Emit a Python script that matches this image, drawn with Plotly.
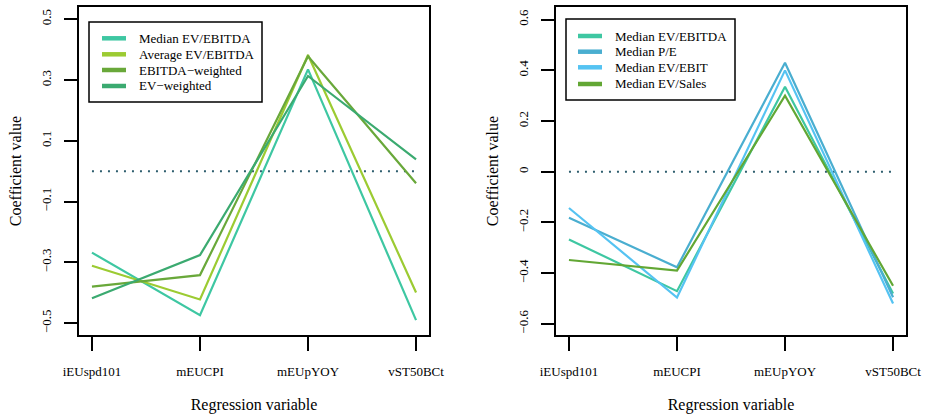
import plotly.graph_objects as go

variables = ["iEUspd101", "mEUCPI", "mEUpYOY", "vST50BCt"]
positions = [1, 2, 3, 4]

left_names = ["Median EV/EBITDA", "Average EV/EBITDA", "EBITDA\u2212weighted", "EV\u2212weighted"]
left_median_ev_ebitda = [-0.268, -0.474, 0.335, -0.490]
left_average_ev_ebitda = [-0.311, -0.422, 0.382, -0.399]
left_ebitda_weighted = [-0.380, -0.342, 0.378, -0.040]
left_ev_weighted = [-0.418, -0.276, 0.313, 0.039]
left_colors = ["#3EC7A2", "#9CCB32", "#69A83A", "#3BAA70"]

right_names = ["Median EV/EBITDA", "Median P/E", "Median EV/EBIT", "Median EV/Sales"]
right_median_ev_ebitda = [-0.267, -0.471, 0.335, -0.480]
right_median_pe = [-0.181, -0.377, 0.430, -0.495]
right_median_ev_ebit = [-0.143, -0.496, 0.400, -0.520]
right_median_ev_sales = [-0.348, -0.390, 0.300, -0.450]
right_colors = ["#3EC7A2", "#4AAED0", "#55C3F2", "#62A734"]

left_ticks = [-0.5, -0.3, -0.1, 0.1, 0.3, 0.5]
left_ticktext = ["\u22120.5", "\u22120.3", "\u22120.1", "0.1", "0.3", "0.5"]
right_ticks = [-0.6, -0.4, -0.2, 0, 0.2, 0.4, 0.6]
right_ticktext = ["\u22120.6", "\u22120.4", "\u22120.2", "0", "0.2", "0.4", "0.6"]
zero_line = [0, 0, 0, 0]

FONT = "Liberation Serif"
W, H = 926, 416
fig = go.Figure()

left_series = [left_median_ev_ebitda, left_average_ev_ebitda, left_ebitda_weighted, left_ev_weighted]
right_series = [right_median_ev_ebitda, right_median_pe, right_median_ev_ebit, right_median_ev_sales]

# zero reference lines
for xa, ya in (("x", "y"), ("x2", "y2")):
    fig.add_trace(go.Scatter(x=positions, y=zero_line, mode="lines", showlegend=False,
                             line=dict(color="#2E5E6E", width=2, dash="2px,6px"),
                             xaxis=xa, yaxis=ya, hoverinfo="skip"))

for name, vals, col in zip(left_names, left_series, left_colors):
    fig.add_trace(go.Scatter(x=positions, y=vals, mode="lines", name=name, showlegend=False,
                             line=dict(color=col, width=2.2), xaxis="x", yaxis="y"))
for name, vals, col in zip(right_names, right_series, right_colors):
    fig.add_trace(go.Scatter(x=positions, y=vals, mode="lines", name=name, showlegend=False,
                             line=dict(color=col, width=2.2), xaxis="x2", yaxis="y2"))

# legends drawn as boxes with keys and text (pixel layout -> paper coords)
def px(x):
    return x / W

def py(y):
    return 1 - y / H

shapes, annotations = [], []

def add_legend(box, key_x0, key_x1, text_x, rows, names, colors):
    x0, y0, x1, y1 = box
    shapes.append(dict(type="rect", xref="paper", yref="paper", x0=px(x0), x1=px(x1),
                       y0=py(y1), y1=py(y0), line=dict(color="black", width=1.5),
                       fillcolor="white", layer="above"))
    for ry, name, col in zip(rows, names, colors):
        shapes.append(dict(type="line", xref="paper", yref="paper", x0=px(key_x0), x1=px(key_x1),
                           y0=py(ry), y1=py(ry), line=dict(color=col, width=4.5), layer="above"))
        annotations.append(dict(text=name, xref="paper", yref="paper", x=px(text_x), y=py(ry),
                                xanchor="left", yanchor="middle", showarrow=False,
                                font=dict(family=FONT, size=13, color="black")))

add_legend((89, 22, 262, 102), 102, 126, 137, [38.3, 54.3, 70, 86], left_names, left_colors)
add_legend((566, 19, 735, 100), 578, 602, 613, [36, 51.7, 67.3, 84], right_names, right_colors)

ytop, ybot = 1 - 7 / H, 1 - 335 / H

common_x = dict(range=[0.88, 4.12], tickmode="array", tickvals=positions, ticktext=variables,
                showgrid=False, zeroline=False, showline=True, mirror=True, linecolor="black",
                linewidth=1.5, ticks="outside", ticklen=14, tickwidth=1.5, tickcolor="black",
                tickfont=dict(family=FONT, size=13, color="black"), ticklabelstandoff=10,
                automargin=False,
                title=dict(text="Regression variable", font=dict(family=FONT, size=16, color="black"),
                           standoff=20))
common_y = dict(showgrid=False, zeroline=False, showline=True, mirror=True, linecolor="black",
                linewidth=1.5, ticks="outside", ticklen=13, tickwidth=1.5, tickcolor="black",
                tickangle=-90, tickfont=dict(family=FONT, size=13, color="black"),
                ticklabelstandoff=8, automargin=False,
                title=dict(text="Coefficient value", font=dict(family=FONT, size=16, color="black"),
                           standoff=13))

fig.update_layout(
    width=W, height=H, margin=dict(l=0, r=0, t=0, b=0, autoexpand=False),
    paper_bgcolor="white", plot_bgcolor="white",
    xaxis=dict(domain=[79 / W, 429 / W], anchor="y", **common_x),
    yaxis=dict(domain=[ybot, ytop], anchor="x", range=[-0.539, 0.540],
               tickmode="array", tickvals=left_ticks, ticktext=left_ticktext, **common_y),
    xaxis2=dict(domain=[556 / W, 906 / W], anchor="y2", **common_x),
    yaxis2=dict(domain=[ybot, ytop], anchor="x2", range=[-0.644, 0.650],
                tickmode="array", tickvals=right_ticks, ticktext=right_ticktext, **common_y),
    shapes=shapes, annotations=annotations,
    showlegend=False,
)

fig.write_html("out.html", config={"displayModeBar": False},
               post_script="document.body.style.margin='0px';document.body.style.overflow='hidden';")
